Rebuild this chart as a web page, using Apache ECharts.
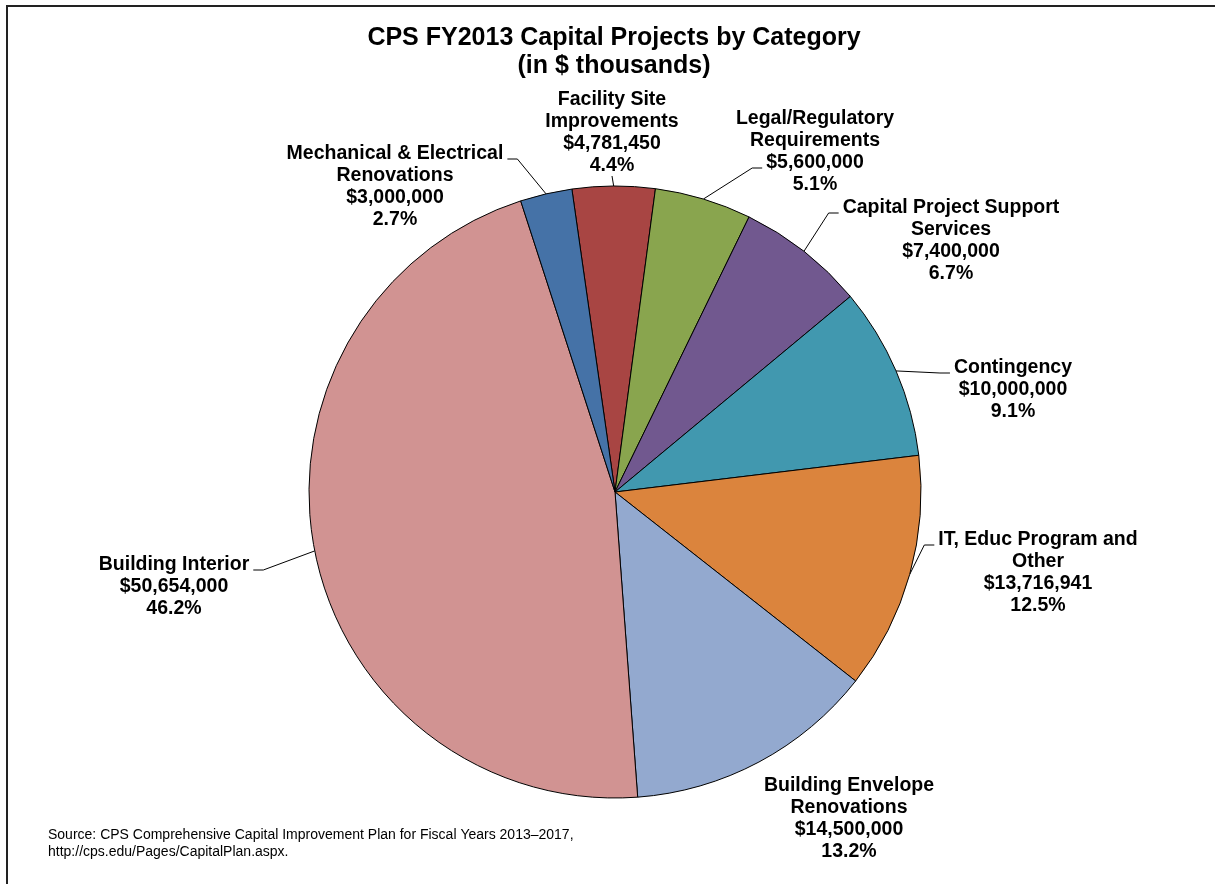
<!DOCTYPE html>
<html>
<head>
<meta charset="utf-8">
<script src="https://cdn.jsdelivr.net/npm/echarts@6/dist/echarts.min.js"></script>
<style>
  html, body { margin: 0; padding: 0; background: #fff; }
  #main { width: 1215px; height: 884px; }
</style>
</head>
<body>
<div id="main"></div>
<script>
// slices in clockwise order, starting just left of 12 o'clock
var categories = [
  'Facility Site\nImprovements',
  'Legal/Regulatory\nRequirements',
  'Capital Project Support\nServices',
  'Contingency',
  'IT, Educ Program and\nOther',
  'Building Envelope\nRenovations',
  'Building Interior',
  'Mechanical & Electrical\nRenovations'
];
var amounts = [4781450, 5600000, 7400000, 10000000, 13716941, 14500000, 50654000, 3000000];
var sliceColors = ['#A84543', '#89A54E', '#71588F', '#4198AF', '#DB843D', '#93A9CF', '#D19392', '#4572A7'];

// label centres and where the leader line meets the text (layout only)
var labelSpots = [
  [612, 133], [815, 152], [951, 241], [1013, 390],
  [1038, 573], [849, 819], [174, 587], [395, 187]
];
var leaderSide = [['bottom'], ['left', 2], ['left', 0], ['left', 0], ['left', 0], ['none'], ['right', 0], ['right', 0]];

var LABEL_FONT = 'bold 19.5px "Liberation Sans", Arial, sans-serif';
var LINE_H = 22;

var chartDom = document.getElementById('main');
var myChart = echarts.init(chartDom);

var total = amounts.reduce(function (a, b) { return a + b; }, 0);
var measureCtx = document.createElement('canvas').getContext('2d');
measureCtx.font = LABEL_FONT;

function money(v) {
  return '$' + v.toString().replace(/\B(?=(\d{3})+(?!\d))/g, ',');
}
function labelText(i) {
  return categories[i] + '\n' + money(amounts[i]) + '\n' + (amounts[i] / total * 100).toFixed(1) + '%';
}

var option = {
  animation: false,
  backgroundColor: '#fff',
  graphic: [
    {
      type: 'rect',
      shape: { x: 7, y: 6, width: 1220, height: 890 },
      style: { fill: 'none', stroke: '#222', lineWidth: 2 },
      silent: true
    },
    {
      type: 'text',
      x: 614,
      y: 24,
      style: {
        text: 'CPS FY2013 Capital Projects by Category\n(in $ thousands)',
        font: 'bold 25px "Liberation Sans", Arial, sans-serif',
        lineHeight: 28,
        align: 'center',
        verticalAlign: 'top',
        fill: '#000'
      }
    },
    {
      type: 'text',
      x: 48,
      y: 827,
      style: {
        text: 'Source: CPS Comprehensive Capital Improvement Plan for Fiscal Years 2013\u20132017,\nhttp://cps.edu/Pages/CapitalPlan.aspx.',
        font: '14px "Liberation Sans", Arial, sans-serif',
        lineHeight: 17,
        verticalAlign: 'top',
        fill: '#000'
      }
    }
  ],
  series: [
    {
      type: 'pie',
      center: [615, 492],
      radius: [0, 306],
      startAngle: 98.1,
      clockwise: true,
      itemStyle: {
        borderColor: '#000',
        borderWidth: 1
      },
      label: {
        show: true,
        position: 'outside',
        fontFamily: 'Liberation Sans, Arial, sans-serif',
        fontWeight: 'bold',
        fontSize: 19.5,
        lineHeight: LINE_H,
        color: '#000',
        align: 'center',
        formatter: function (p) { return labelText(p.dataIndex); }
      },
      labelLine: {
        show: true,
        length: 10,
        length2: 14,
        lineStyle: { color: '#000', width: 1 }
      },
      labelLayout: function (params) {
        var i = params.dataIndex;
        var s = labelSpots[i];
        var lines = labelText(i).split('\n');
        var h = lines.length * LINE_H;
        var top = s[1] - h / 2;
        var out = { x: s[0], y: s[1], align: 'center', verticalAlign: 'middle' };
        var spec = leaderSide[i];
        var pts = params.labelLinePoints;
        if (pts && spec[0] !== 'none') {
          var edge = pts[0];
          if (spec[0] === 'bottom') {
            out.labelLinePoints = [edge, [s[0], top + h - 1], [s[0], top + h - 1]];
          } else {
            var ly = top + LINE_H * spec[1] + LINE_H / 2 + 5;
            var lw = measureCtx.measureText(lines[spec[1]]).width;
            var dir = spec[0] === 'left' ? -1 : 1;
            var p0 = [s[0] + dir * (lw / 2 + 4), ly];
            var p1 = [p0[0] + dir * 10, ly];
            out.labelLinePoints = [edge, p1, p0];
          }
        }
        return out;
      },
      data: categories.map(function (name, i) {
        var item = { name: name, value: amounts[i], itemStyle: { color: sliceColors[i] } };
        if (leaderSide[i][0] === 'none') item.labelLine = { show: false };
        return item;
      })
    }
  ]
};

myChart.setOption(option);
</script>
</body>
</html>
